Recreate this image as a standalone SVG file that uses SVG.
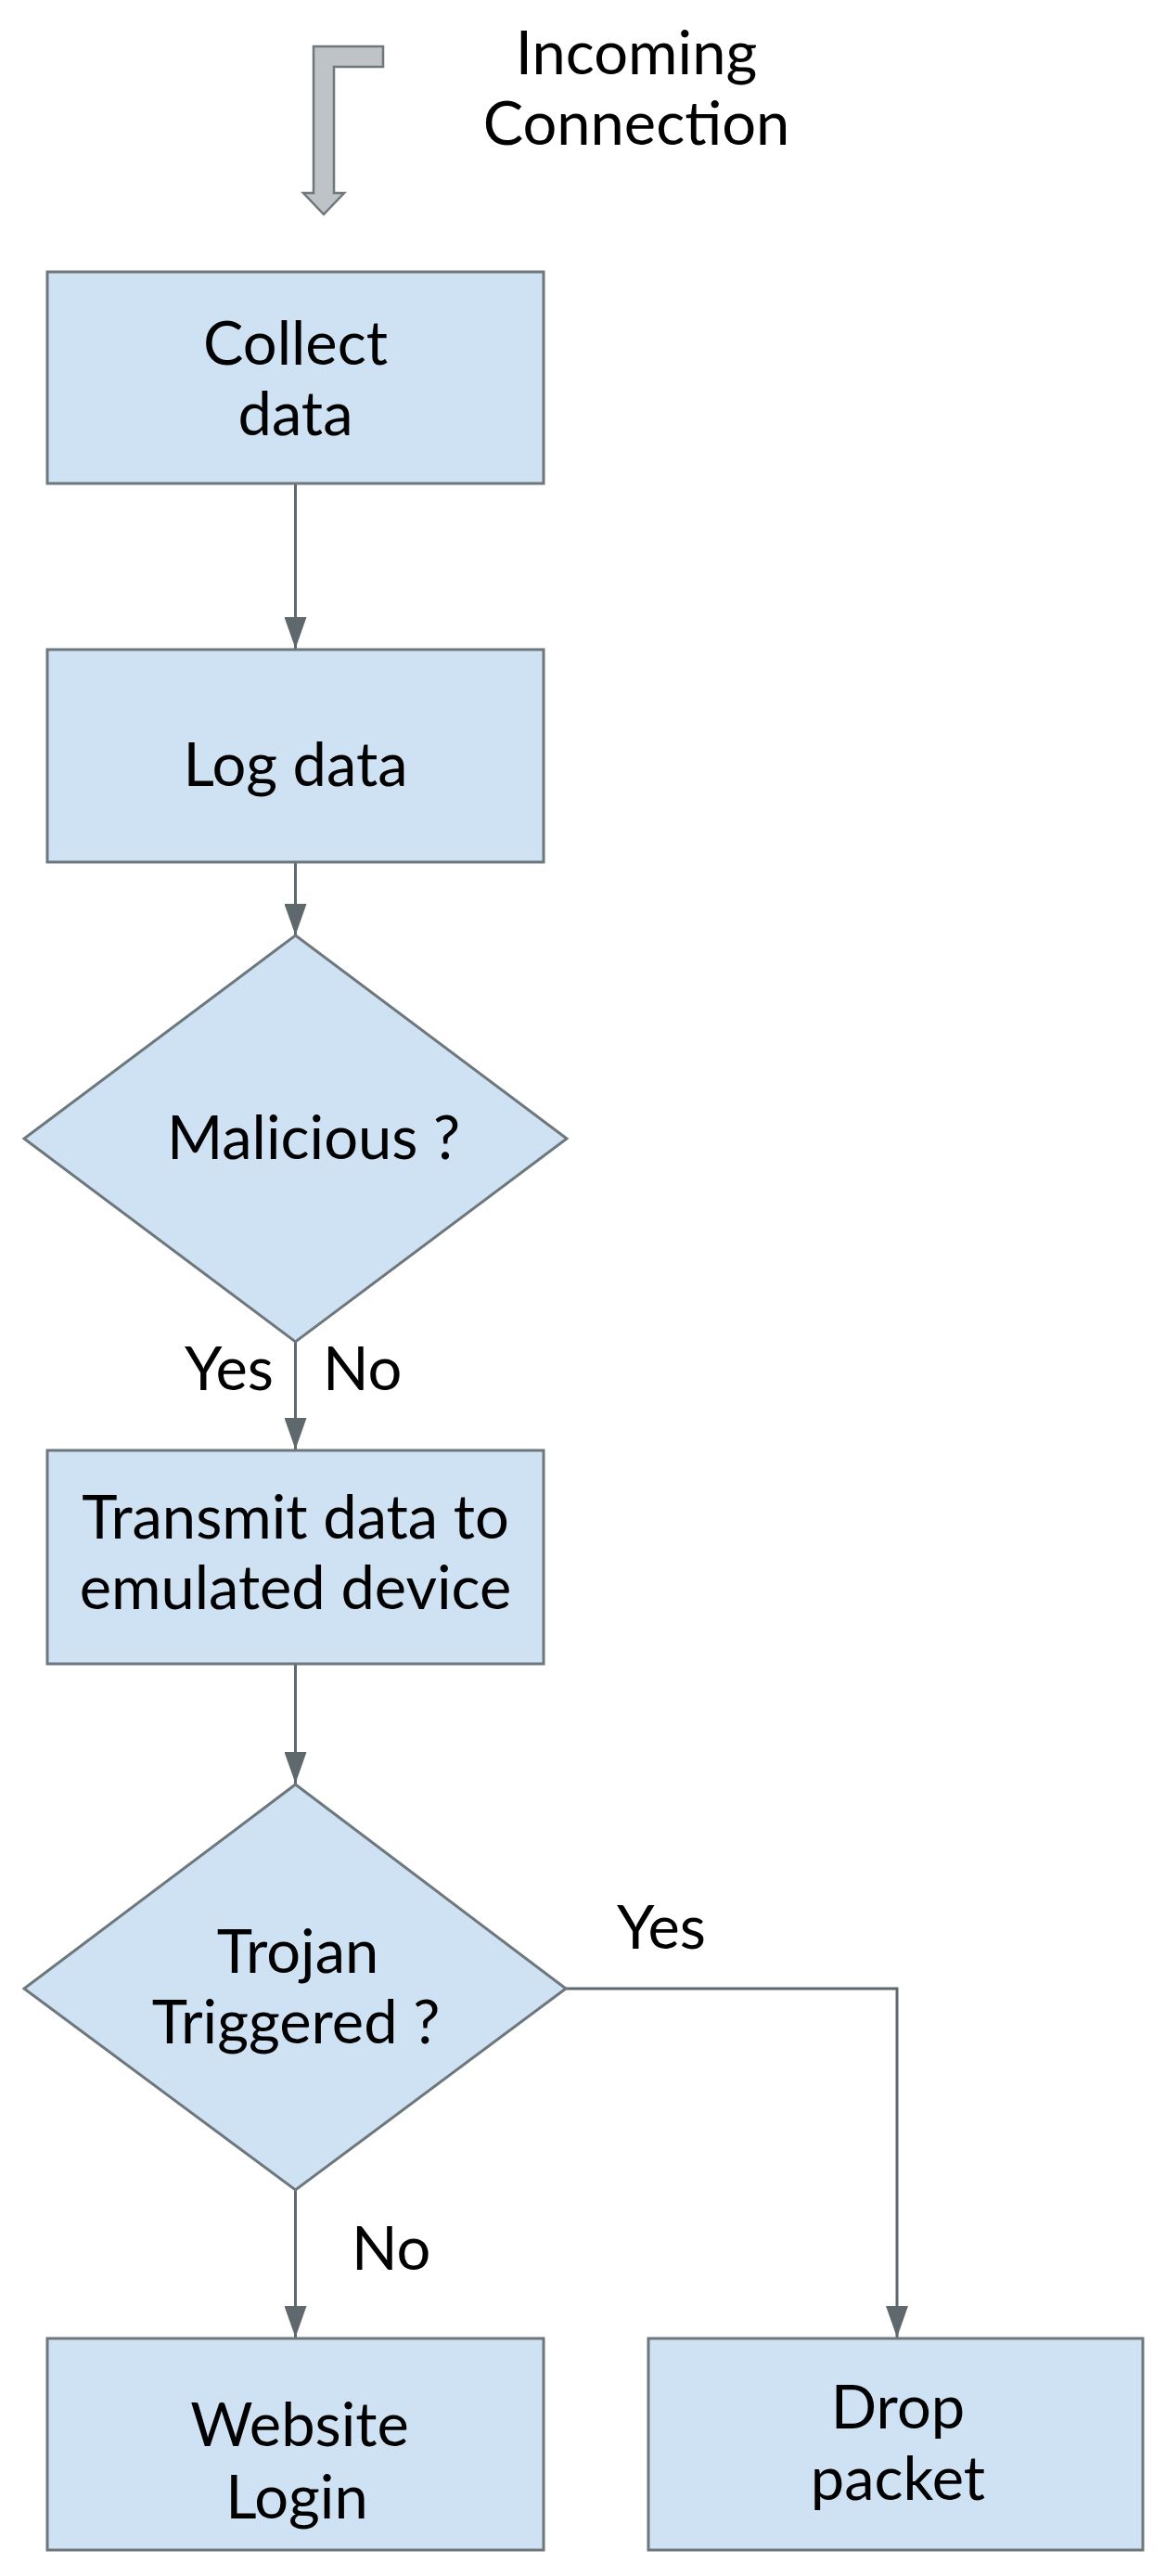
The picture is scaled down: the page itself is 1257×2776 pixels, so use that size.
<svg xmlns="http://www.w3.org/2000/svg" width="1257" height="2776" viewBox="0 0 1257 2776">
<style>
.node { fill: #cfe2f3; stroke: #6d777c; stroke-width: 3; }
.lbl { font-family: Lato, "Open Sans", "Liberation Sans", sans-serif; font-size: 65px; fill: #000; }
.mid { text-anchor: middle; }
.conn { fill: none; stroke: #5f686c; stroke-width: 3; marker-end: url(#ah); }
</style>
<defs>
<marker id="ah" markerUnits="userSpaceOnUse" markerWidth="34" markerHeight="24" viewBox="0 0 34 24" refX="34" refY="12" orient="auto">
<path d="M0,0 L34,12 L0,24 Z" fill="#5f686c"/>
</marker>
</defs>
<rect width="1257" height="2776" fill="#ffffff"/>

<g id="incoming">
<polygon points="338,50 413,50 413,72 360,72 360,208 371,208 349,231 327,208 338,208" fill="#bdc3c6" stroke="#6d777c" stroke-width="2.5"/>
<text class="lbl mid" x="686" y="80">Incoming</text>
<text class="lbl mid" x="686" y="156">Connection</text>
</g>

<g id="connectors">
<path class="conn" d="M318.5,521 L318.5,699"/>
<path class="conn" d="M318.5,929 L318.5,1008"/>
<path class="conn" d="M318.5,1446 L318.5,1562"/>
<path class="conn" d="M318.5,1793 L318.5,1922"/>
<path class="conn" d="M318.5,2360 L318.5,2519"/>
<path class="conn" d="M610,2143 L967,2143 L967,2519"/>
<text class="lbl" x="199" y="1498">Yes</text>
<text class="lbl" x="348" y="1498">No</text>
<text class="lbl" x="665" y="2100">Yes</text>
<text class="lbl" x="379" y="2446">No</text>
</g>

<g id="collect">
<rect class="node" x="51" y="293" width="535" height="228"/>
<text class="lbl mid" x="318.5" y="393">Collect</text>
<text class="lbl mid" x="318.5" y="469">data</text>
</g>

<g id="log">
<rect class="node" x="51" y="700" width="535" height="229"/>
<text class="lbl mid" x="318.5" y="847">Log data</text>
</g>

<g id="malicious">
<polygon class="node" points="318.5,1008 611,1227 318.5,1446 26,1227"/>
<text class="lbl mid" x="338" y="1249">Malicious ?</text>
</g>

<g id="transmit">
<rect class="node" x="51" y="1563" width="535" height="230"/>
<text class="lbl mid" x="318.5" y="1658">Transmit data to</text>
<text class="lbl mid" x="318.5" y="1734">emulated device</text>
</g>

<g id="trojan">
<polygon class="node" points="318.5,1923 610,2143 318.5,2360 26,2143"/>
<text class="lbl mid" x="321" y="2126">Trojan</text>
<text class="lbl mid" x="319" y="2202">Triggered ?</text>
</g>

<g id="website">
<rect class="node" x="51" y="2520" width="535" height="228"/>
<text class="lbl mid" x="323" y="2636">Website</text>
<text class="lbl mid" x="320" y="2714">Login</text>
</g>

<g id="drop">
<rect class="node" x="699" y="2520" width="533" height="228"/>
<text class="lbl mid" x="968" y="2617">Drop</text>
<text class="lbl mid" x="968" y="2694">packet</text>
</g>
</svg>
